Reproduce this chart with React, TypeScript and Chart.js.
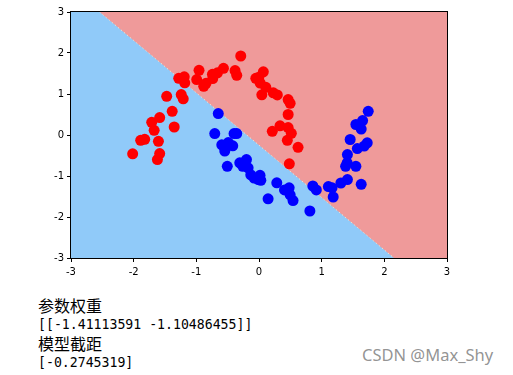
import React, { useEffect, useRef } from "react";
import { Chart, registerables } from "chart.js";

Chart.register(...registerables);

// Class 0 (red) samples
const redX = [-2.016, -1.888, -1.824, -1.712, -1.673, -1.605, -1.585, -1.621, -1.585, -1.385, -1.353, -1.473, -1.241, -1.209, -1.281, -1.193, -1.185, -0.994, -0.957, -0.882, -0.845, -0.743, -0.663, -0.738, -0.567, -0.382, -0.355, -0.291, -0.051, -0.003, 0.018, 0.069, 0.109, 0.045, 0.228, 0.292, 0.465, 0.497, 0.465, 0.212, 0.335, 0.465, 0.516, 0.452, 0.623, 0.484];
const redY = [-0.459, -0.129, -0.105, 0.31, 0.115, -0.154, -0.454, -0.6, 0.424, 0.578, 0.195, 0.944, 0.985, 0.883, 1.383, 1.42, 1.273, 1.351, 1.578, 1.188, 1.261, 1.48, 1.517, 1.376, 1.627, 1.571, 1.456, 1.927, 1.383, 1.407, 1.268, 1.541, 1.163, 0.98, 1.029, 0.976, 0.863, 0.773, 0.5, 0.09, 0.224, 0.18, 0.041, -0.129, -0.3, -0.702];

// Class 1 (blue) samples
const blueX = [-0.65, -0.706, -0.398, -0.355, -0.594, -0.49, -0.419, -0.546, -0.506, -0.307, -0.2, -0.259, -0.174, -0.131, -0.078, -0.011, 0.016, 0.029, 0.284, 0.407, 0.481, 0.497, 0.543, 0.145, 0.812, 0.859, 0.915, 1.107, 1.166, 1.184, 1.307, 1.411, 1.631, 1.411, 1.407, 1.382, 1.546, 1.455, 1.569, 1.679, 1.727, 1.546, 1.653, 1.631, 1.743];
const blueY = [0.522, 0.034, 0.034, 0.034, -0.239, -0.185, -0.263, -0.39, -0.763, -0.678, -0.598, -0.763, -0.8, -0.971, -1.049, -1.088, -0.983, -1.105, -1.166, -1.339, -1.288, -1.459, -1.598, -1.556, -1.854, -1.244, -1.339, -1.259, -1.288, -1.512, -1.171, -1.088, -1.202, -0.478, -0.678, -0.763, -0.763, -0.11, -0.332, -0.271, -0.19, 0.256, 0.351, 0.144, 0.578];

// Model parameters (from the printed output)
const coef = [-1.41113591, -1.10486455];
const intercept = [-0.2745319];

const axisMin = -3;
const axisMax = 3;
const tickValues = [-3, -2, -1, 0, 1, 2, 3];

const BLUE_BG = "#90caf9";
const RED_BG = "#ef9a9a";

function decision(x: number, y: number) {
  return coef[0] * x + coef[1] * y + intercept[0];
}

const regionPlugin = {
  id: "region",
  beforeDatasetsDraw(chart: any) {
    const { ctx, chartArea, scales } = chart;
    const { left, right, top, bottom } = chartArea;
    const xs = scales.x;
    const ys = scales.y;
    ctx.save();
    ctx.fillStyle = BLUE_BG;
    ctx.fillRect(left, top, right - left, bottom - top);
    const rect: number[][] = [
      [axisMin, axisMax],
      [axisMax, axisMax],
      [axisMax, axisMin],
      [axisMin, axisMin],
    ];
    const out: number[][] = [];
    for (let i = 0; i < rect.length; i++) {
      const a = rect[i];
      const b = rect[(i + 1) % rect.length];
      const fa = decision(a[0], a[1]);
      const fb = decision(b[0], b[1]);
      if (fa < 0) out.push(a);
      if ((fa < 0) !== (fb < 0)) {
        const t = fa / (fa - fb);
        out.push([a[0] + t * (b[0] - a[0]), a[1] + t * (b[1] - a[1])]);
      }
    }
    if (out.length > 2) {
      ctx.beginPath();
      out.forEach((p, i) => {
        const px = xs.getPixelForValue(p[0]);
        const py = ys.getPixelForValue(p[1]);
        if (i === 0) ctx.moveTo(px, py);
        else ctx.lineTo(px, py);
      });
      ctx.closePath();
      ctx.fillStyle = RED_BG;
      ctx.fill();
    }
    const yTop = axisMax;
    const yBot = axisMin;
    const xTop = -(coef[1] * yTop + intercept[0]) / coef[0];
    const xBot = -(coef[1] * yBot + intercept[0]) / coef[0];
    ctx.beginPath();
    ctx.setLineDash([1, 3]);
    ctx.strokeStyle = "rgba(255,245,210,0.9)";
    ctx.lineWidth = 1;
    ctx.moveTo(xs.getPixelForValue(xTop), ys.getPixelForValue(yTop));
    ctx.lineTo(xs.getPixelForValue(xBot), ys.getPixelForValue(yBot));
    ctx.stroke();
    ctx.restore();
  },
  afterDraw(chart: any) {
    const { ctx, chartArea } = chart;
    const { left, right, top, bottom } = chartArea;
    ctx.save();
    ctx.strokeStyle = "#000";
    ctx.lineWidth = 1;
    ctx.strokeRect(Math.round(left) - 0.5, Math.round(top) - 0.5, Math.round(right - left) + 1, Math.round(bottom - top) + 1);
    ctx.restore();
  },
};

export default function App() {
  const ref = useRef<HTMLCanvasElement | null>(null);

  useEffect(() => {
    if (!ref.current) return;
    const chart = new Chart(ref.current, {
      type: "scatter",
      data: {
        datasets: [
          {
            label: "class0",
            data: redX.map((x, i) => ({ x, y: redY[i] })),
            backgroundColor: "#ff0000",
            borderWidth: 0,
            pointRadius: 5.5,
          },
          {
            label: "class1",
            data: blueX.map((x, i) => ({ x, y: blueY[i] })),
            backgroundColor: "#0000ff",
            borderWidth: 0,
            pointRadius: 5.5,
          },
        ],
      },
      options: {
        responsive: false,
        animation: false,
        devicePixelRatio: 1,
        layout: { padding: { left: 0, top: 12, right: 66, bottom: 0 } },
        plugins: {
          legend: { display: false },
          tooltip: { enabled: false },
        },
        scales: {
          x: {
            type: "linear",
            min: axisMin,
            max: axisMax,
            afterBuildTicks: (s: any) => {
              s.ticks = tickValues.map((v) => ({ value: v }));
            },
            afterFit: (s: any) => {
              s.height = 32;
            },
            ticks: {
              color: "#000",
              font: { family: "DejaVu Sans", size: 10 },
              padding: 4,
              maxRotation: 0,
              callback: (v: any) => String(v),
            },
            grid: {
              drawOnChartArea: false,
              drawTicks: true,
              tickLength: 4,
              tickColor: "#000",
            },
            border: { display: true, color: "#000" },
          },
          y: {
            type: "linear",
            min: axisMin,
            max: axisMax,
            afterBuildTicks: (s: any) => {
              s.ticks = tickValues.map((v) => ({ value: v }));
            },
            afterFit: (s: any) => {
              s.width = 71;
            },
            ticks: {
              color: "#000",
              font: { family: "DejaVu Sans", size: 10 },
              padding: 3,
              callback: (v: any) => String(v),
            },
            grid: {
              drawOnChartArea: false,
              drawTicks: true,
              tickLength: 4,
              tickColor: "#000",
            },
            border: { display: true, color: "#000" },
          },
        },
      },
      plugins: [regionPlugin],
    });
    return () => chart.destroy();
  }, []);

  const cjk: React.CSSProperties = {
    fontFamily: "'Noto Sans CJK SC', sans-serif",
    fontSize: 16,
    height: 19,
    lineHeight: "19px",
  };
  const mono: React.CSSProperties = {
    fontFamily: "'DejaVu Sans Mono', monospace",
    fontSize: 13.2,
    height: 19,
    lineHeight: "19px",
  };

  return (
    <div
      style={{
        position: "fixed",
        left: 0,
        top: 0,
        width: 513,
        height: 375,
        background: "#fff",
        overflow: "hidden",
      }}
    >
      <canvas ref={ref} width={513} height={290} style={{ position: "absolute", left: 0, top: 0 }} />
      <div style={{ position: "absolute", left: 38, top: 296, color: "#000" }}>
        <div style={cjk}>参数权重</div>
        <div style={mono}>[[-1.41113591 -1.10486455]]</div>
        <div style={cjk}>模型截距</div>
        <div style={mono}>[-0.2745319]</div>
      </div>
      <div
        style={{
          position: "absolute",
          left: 362,
          top: 343,
          fontFamily: "'Noto Sans', sans-serif",
          fontSize: 16.5,
          color: "rgba(120,120,120,0.8)",
          whiteSpace: "nowrap",
        }}
      >
        CSDN @Max_Shy
      </div>
    </div>
  );
}
